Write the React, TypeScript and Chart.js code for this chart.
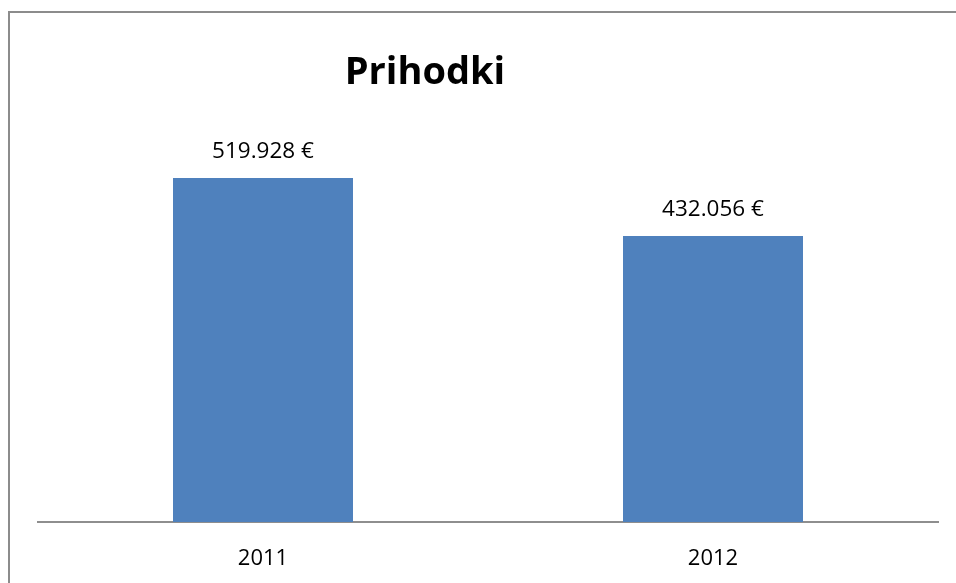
import React, { useEffect, useRef } from "react";
import { Chart, registerables } from "chart.js";

Chart.register(...registerables);

const categories: string[] = ["2011", "2012"];
const revenues: number[] = [519928, 432056];
const chartTitle = "Prihodki";
const yMax = 600000;

const formatEuro = (v: number) =>
  v.toString().replace(/\B(?=(\d{3})+(?!\d))/g, ".") + " €";

const FONT = "'Open Sans', 'Liberation Sans', sans-serif";

const titlePlugin = {
  id: "fixedTitle",
  afterDraw(chart: any) {
    const ctx = chart.ctx;
    ctx.save();
    ctx.font = `bold 38px ${FONT}`;
    ctx.fillStyle = "#000000";
    ctx.textAlign = "center";
    ctx.textBaseline = "alphabetic";
    ctx.fillText(chartTitle, chart.width * 0.4445, 84);
    ctx.restore();
  },
};

const valueLabelPlugin = {
  id: "valueLabels",
  afterDatasetsDraw(chart: any) {
    const ctx = chart.ctx;
    const meta = chart.getDatasetMeta(0);
    const data = chart.data.datasets[0].data as number[];
    ctx.save();
    ctx.font = `22.5px ${FONT}`;
    ctx.fillStyle = "#000000";
    ctx.textAlign = "center";
    ctx.textBaseline = "alphabetic";
    meta.data.forEach((el: any, i: number) => {
      ctx.fillText(formatEuro(data[i]), el.x, el.y - 20);
    });
    ctx.restore();
  },
};

export default function App() {
  const canvasRef = useRef<HTMLCanvasElement | null>(null);

  useEffect(() => {
    document.body.style.margin = "0";
    const canvas = canvasRef.current;
    if (!canvas) return;
    const chart = new Chart(canvas, {
      type: "bar",
      data: {
        labels: categories,
        datasets: [
          {
            data: revenues,
            backgroundColor: "#4f81bd",
            borderWidth: 0,
            barPercentage: 0.4,
            categoryPercentage: 1,
          },
        ],
      },
      options: {
        responsive: false,
        animation: false,
        maintainAspectRatio: false,
        layout: { padding: { left: 38, right: 18, top: 125, bottom: 0 } },
        plugins: {
          legend: { display: false },
          title: { display: false },
          tooltip: { enabled: false },
        },
        scales: {
          x: {
            grid: { display: false, drawTicks: false },
            border: { display: true, color: "#8e8e8e", width: 2 },
            ticks: {
              color: "#000000",
              font: { family: FONT, size: 22 },
              padding: 24,
            },
            afterFit: (scale: any) => {
              scale.height = 61;
            },
          },
          y: {
            display: false,
            min: 0,
            max: yMax,
          },
        },
      },
      plugins: [titlePlugin, valueLabelPlugin],
    });
    return () => chart.destroy();
  }, []);

  return (
    <div
      style={{
        position: "fixed",
        left: 0,
        top: 0,
        width: 956,
        height: 583,
        background: "#ffffff",
        overflow: "hidden",
      }}
    >
      <div
        style={{
          position: "absolute",
          left: 8,
          top: 11,
          width: 1000,
          height: 700,
          border: "2px solid #8c8c8c",
          boxSizing: "border-box",
        }}
      />
      <canvas
        ref={canvasRef}
        width={956}
        height={583}
        style={{ position: "absolute", left: 0, top: 0, width: 956, height: 583 }}
      />
    </div>
  );
}
